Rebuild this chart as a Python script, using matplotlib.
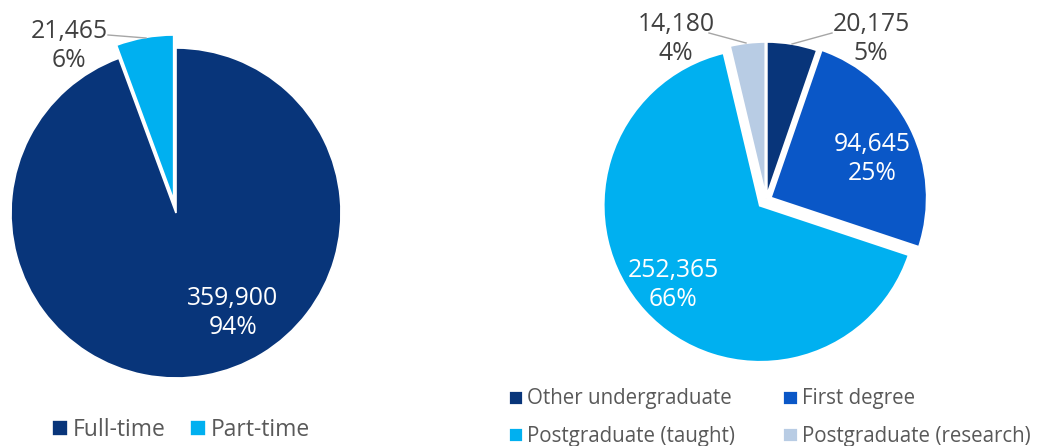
import matplotlib
matplotlib.use("Agg")
import matplotlib.pyplot as plt

plt.rcParams['font.family'] = ['Open Sans', 'DejaVu Sans']

# ---- data ----
mode_labels = ["Full-time", "Part-time"]
mode_values = [359900, 21465]
mode_colors = ["#08357A", "#00B0F0"]

level_labels = ["Other undergraduate", "First degree", "Postgraduate (taught)", "Postgraduate (research)"]
level_values = [20175, 94645, 252365, 14180]
level_colors = ["#08357A", "#0A57C7", "#00B0F0", "#B8CCE4"]

W, H = 1037, 446
fig = plt.figure(figsize=(W / 100, H / 100), dpi=100)
LABEL_FS = 17.8

def make_ax(cx, cy, r, half=210):
    by = H - cy
    ax = fig.add_axes([(cx - half) / W, (by - half) / H, 2 * half / W, 2 * half / H])
    lim = half / r
    return ax, lim

def pct_text(v, total):
    return f"{v:,}\n{round(100 * v / total):.0f}%"

def px2d(px, py, cx, cy, r):
    return (px - cx) / r, (cy - py) / r

# ---- left pie ----
cxL, cyL, rL = 176, 213, 165
axL, limL = make_ax(cxL, cyL, rL)
wL, _ = axL.pie(mode_values, colors=mode_colors, startangle=90, counterclock=False,
                explode=[0, 0.08], radius=1,
                wedgeprops=dict(edgecolor="white", linewidth=1.2))
axL.set_xlim(-limL, limL)
axL.set_ylim(-limL, limL)
axL.set_aspect("equal")
axL.axis("off")

totL = sum(mode_values)
axL.text(*px2d(233, 313, cxL, cyL, rL), pct_text(mode_values[0], totL), color="white",
         ha="center", va="center", fontsize=LABEL_FS, linespacing=1.25)
axL.text(*px2d(69, 46, cxL, cyL, rL), pct_text(mode_values[1], totL), color="#404040",
         ha="center", va="center", fontsize=LABEL_FS, linespacing=1.25)
x0, y0 = px2d(108, 35, cxL, cyL, rL)
x1, y1 = px2d(146, 38, cxL, cyL, rL)
axL.plot([x0, x1], [y0, y1], color="#A6A6A6", lw=1, clip_on=False)

axL.legend(wL, mode_labels, loc="center", bbox_to_anchor=(181 / W, (H - 430) / H),
           bbox_transform=fig.transFigure, ncol=2, frameon=False, fontsize=16.5,
           handlelength=0.7, handleheight=0.7, handletextpad=0.2, columnspacing=1.1,
           labelcolor="#595959")

# ---- right pie ----
cxR, cyR, rR = 766, 200, 157
axR, limR = make_ax(cxR, cyR, rR)
wR, _ = axR.pie(level_values, colors=level_colors, startangle=90, counterclock=False,
                explode=[0.01, 0.03, 0.05, 0.01], radius=1,
                wedgeprops=dict(edgecolor="white", linewidth=2))
axR.set_xlim(-limR, limR)
axR.set_ylim(-limR, limR)
axR.set_aspect("equal")
axR.axis("off")

totR = sum(level_values)
axR.text(*px2d(872, 159, cxR, cyR, rR), pct_text(level_values[1], totR), color="white",
         ha="center", va="center", fontsize=LABEL_FS, linespacing=1.25)
axR.text(*px2d(673, 285, cxR, cyR, rR), pct_text(level_values[2], totR), color="white",
         ha="center", va="center", fontsize=LABEL_FS, linespacing=1.25)
axR.text(*px2d(871, 39, cxR, cyR, rR), pct_text(level_values[0], totR), color="#404040",
         ha="center", va="center", fontsize=LABEL_FS, linespacing=1.25)
axR.text(*px2d(676, 39, cxR, cyR, rR), pct_text(level_values[3], totR), color="#404040",
         ha="center", va="center", fontsize=LABEL_FS, linespacing=1.25)
for (a, b), (c, d) in [((832, 33), (792, 44)), ((709, 33), (746, 43))]:
    xa, ya = px2d(a, b, cxR, cyR, rR)
    xb, yb = px2d(c, d, cxR, cyR, rR)
    axR.plot([xa, xb], [ya, yb], color="#A6A6A6", lw=1, clip_on=False)

# row-wise legend order (matplotlib fills columns first)
order = [0, 2, 1, 3]
axR.legend([wR[i] for i in order], [level_labels[i] for i in order], loc="center",
           bbox_to_anchor=(769 / W, (H - 417.5) / H),
           bbox_transform=fig.transFigure, ncol=2, frameon=False, fontsize=14.8,
           handlelength=0.75, handleheight=0.75, handletextpad=0.2, columnspacing=2.3,
           labelspacing=0.8, labelcolor="#595959")

fig.savefig("out.png", dpi=100)
